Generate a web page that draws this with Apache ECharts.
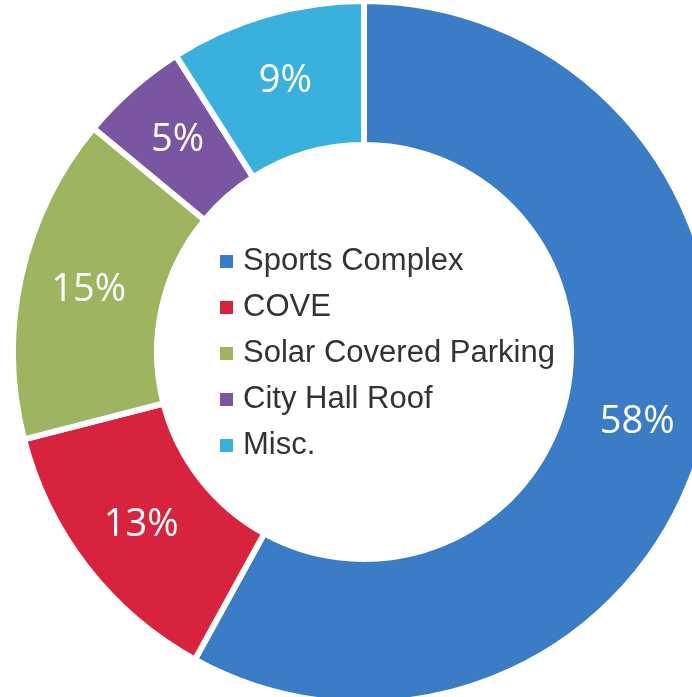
<!DOCTYPE html>
<html>
<head>
<meta charset="utf-8">
<script src="https://cdn.jsdelivr.net/npm/echarts@6/dist/echarts.min.js"></script>
<style>
html,body{margin:0;padding:0;background:#ffffff;}
#chart{width:692px;height:697px;}
</style>
</head>
<body>
<div id="chart"></div>
<script>
var categories = ['Sports Complex', 'COVE', 'Solar Covered Parking', 'City Hall Roof', 'Misc.'];
var values = [58, 13, 15, 5, 9];
var colors = ['#3b7cc6', '#d8233f', '#9db461', '#7a55a2', '#3ab1dc'];

var chart = echarts.init(document.getElementById('chart'));
chart.setOption({
  backgroundColor: '#ffffff',
  animation: false,
  color: colors,
  legend: {
    orient: 'vertical',
    left: 218,
    top: 246,
    padding: 0,
    itemWidth: 15,
    itemHeight: 15,
    itemGap: 15,
    icon: 'rect',
    selectedMode: false,
    textStyle: {
      fontFamily: 'Liberation Sans, Arial, sans-serif',
      fontSize: 31,
      lineHeight: 31,
      color: '#333333',
      padding: [0, 0, 0, 4]
    },
    data: categories
  },
  series: [{
    type: 'pie',
    center: [364, 352],
    radius: [207, 351],
    startAngle: 90,
    clockwise: true,
    avoidLabelOverlap: false,
    itemStyle: { borderColor: '#ffffff', borderWidth: 6 },
    label: {
      show: true,
      position: 'inside',
      formatter: '{c}%',
      color: '#ffffff',
      fontFamily: 'Open Sans, sans-serif',
      fontSize: 38
    },
    labelLine: { show: false },
    emphasis: { disabled: true },
    data: categories.map(function (n, i) { return { name: n, value: values[i] }; })
  }]
});
</script>
</body>
</html>
